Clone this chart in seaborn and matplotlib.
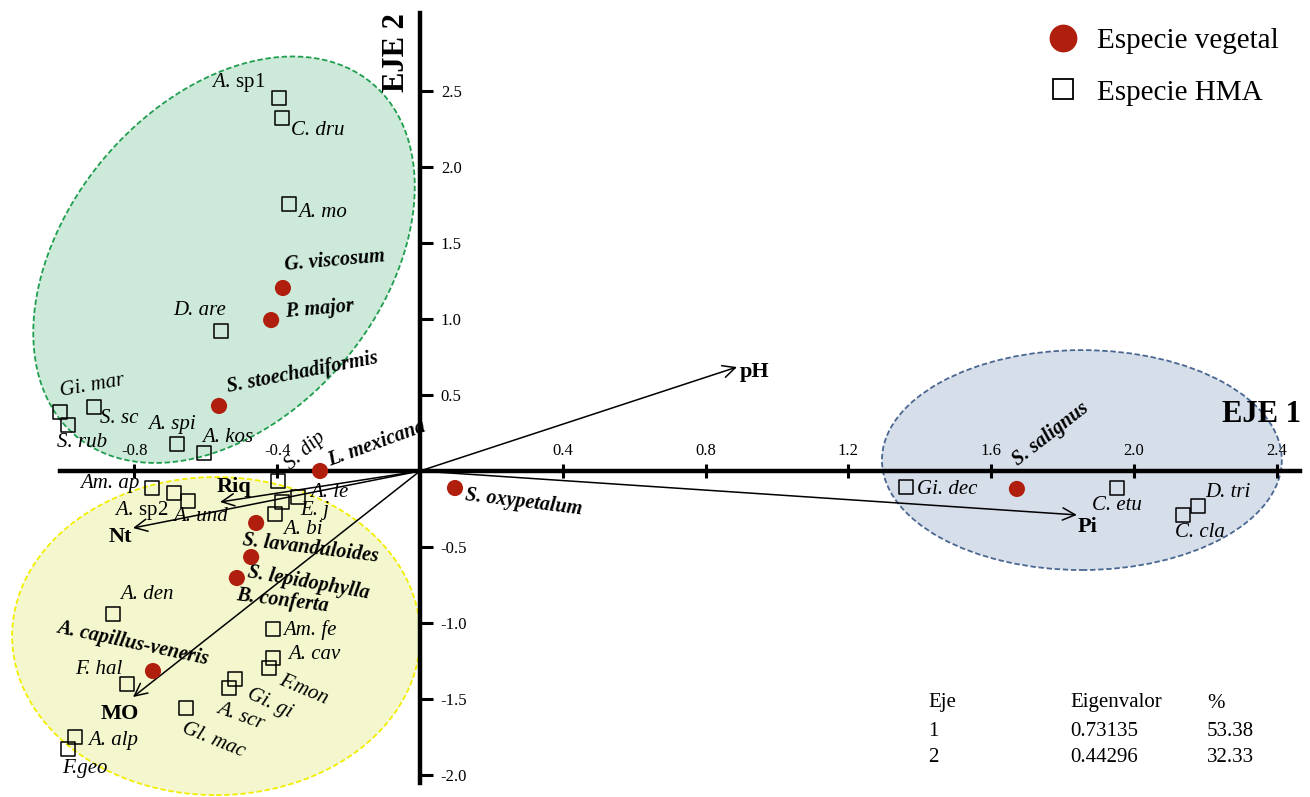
import numpy as np
import pandas as pd
import matplotlib
matplotlib.use('Agg')
import matplotlib.pyplot as plt
import matplotlib.transforms as mtransforms
from matplotlib.patches import Ellipse
from matplotlib.lines import Line2D
import seaborn as sns

sns.set_style('white')
plt.rcParams['font.family'] = ['Liberation Serif', 'DejaVu Serif']
plt.rcParams['mathtext.fontset'] = 'custom'
plt.rcParams['mathtext.rm'] = 'Liberation Serif'
plt.rcParams['mathtext.it'] = 'Liberation Serif:italic'
plt.rcParams['axes.unicode_minus'] = False
plt.rcParams['text.color'] = 'black'
plt.rcParams['xtick.color'] = 'black'
plt.rcParams['ytick.color'] = 'black'

# especies vegetales (puntos rojos)
veg_names = ['G. viscosum', 'P. major', 'S. stoechadiformis', 'L. mexicana',
             'S. lavanduloides', 'S. lepidophylla', 'B. conferta',
             'A. capillus-veneris', 'S. oxypetalum', 'S. salignus']
veg_x = [-0.384, -0.417, -0.563, -0.280, -0.459, -0.473, -0.513, -0.748, 0.098, 1.672]
veg_y = [1.204, 0.993, 0.428, 0.0, -0.342, -0.566, -0.704, -1.316, -0.112, -0.118]

# especies HMA (cuadros)
hma_names = ['A. sp1', 'C. dru', 'A. mo', 'D. are', 'Gi. mar', 'S. rub', 'S. sc',
             'A. spi', 'A. kos', 'S. dip', 'Am. ap', 'A. sp2', 'A. und', 'A. le',
             'E. j', 'A. bi', 'A. den', 'F. hal', 'Am. fe', 'A. cav', 'F.mon',
             'Gi. gi', 'A. scr', 'Gl. mac', 'A. alp', 'F.geo', 'Gi. dec', 'C. etu',
             'D. tri', 'C. cla']
hma_x = [-0.395, -0.387, -0.367, -0.557, -1.008, -0.986, -0.913, -0.681, -0.605, -0.398,
         -0.751, -0.689, -0.650, -0.342, -0.387, -0.406, -0.860, -0.821, -0.412, -0.412,
         -0.423, -0.518, -0.535, -0.655, -0.966, -0.986, 1.361, 1.952, 2.179, 2.137]
hma_y = [2.454, 2.322, 1.757, 0.921, 0.388, 0.303, 0.421, 0.178, 0.118, -0.066,
         -0.112, -0.145, -0.197, -0.171, -0.204, -0.283, -0.941, -1.401, -1.039, -1.230,
         -1.296, -1.368, -1.428, -1.559, -1.750, -1.829, -0.105, -0.112, -0.230, -0.289]

# variables del suelo (flechas)
var_names = ['pH', 'Pi', 'Riq', 'Nt', 'MO']
var_x = [0.888, 1.840, -0.560, -0.804, -0.804]
var_y = [0.684, -0.289, -0.204, -0.375, -1.487]

# tabla de eigenvalores
eje = ['1', '2']
eigenvalor = ['0.73135', '0.44296']
porcentaje = ['53.38', '32.33']

xticks = [-0.8, -0.4, 0.4, 0.8, 1.2, 1.6, 2.0, 2.4]
yticks = [2.5, 2.0, 1.5, 1.0, 0.5, -0.5, -1.0, -1.5, -2.0]

# posicion de etiquetas: (dx, dy en pixeles, alineacion, rotacion)
lab_veg = {
    'G. viscosum': (2, 23, 'left', 5),
    'P. major': (14, 8, 'left', 5),
    'S. stoechadiformis': (8, 19, 'left', 11),
    'L. mexicana': (8, 10, 'left', 20),
    'S. lavanduloides': (-14, -17, 'left', -7),
    'S. lepidophylla': (-3, -15, 'left', -10),
    'B. conferta': (0, -17, 'left', -7),
    'A. capillus-veneris': (-96, 44, 'left', -12),
    'S. oxypetalum': (10, -7, 'left', -7),
    'S. salignus': (-2, 27, 'left', 38),
}
lab_hma = {
    'A. sp1': (-14, 15, 'right', 0), 'C. dru': (9, -12, 'left', 0),
    'A. mo': (9, -9, 'left', 0), 'D. are': (-22, 21, 'center', 0),
    'Gi. mar': (0, 20, 'left', 10), 'S. rub': (-11, -18, 'left', 0),
    'S. sc': (6, -11, 'left', 0), 'A. spi': (-5, 19, 'center', 0),
    'A. kos': (-2, 16, 'left', 0), 'S. dip': (10, 14, 'left', 42),
    'Am. ap': (-12, 5, 'right', 0), 'A. sp2': (-6, -17, 'right', 0),
    'A. und': (-15, -16, 'left', 0), 'A. le': (12, 4, 'left', 0),
    'E. j': (18, -8, 'left', 0), 'A. bi': (8, -15, 'left', 0),
    'A. den': (7, 20, 'left', 0), 'F. hal': (-5, 14, 'right', 0),
    'Am. fe': (10, -1, 'left', 0), 'A. cav': (15, 3, 'left', 0),
    'F.mon': (11, -12, 'left', -23), 'Gi. gi': (13, -14, 'left', -25),
    'A. scr': (-11, -20, 'left', -20), 'Gl. mac': (-3, -20, 'left', -22),
    'A. alp': (13, -3, 'left', 0), 'F.geo': (-6, -19, 'left', 0),
    'Gi. dec': (11, -3, 'left', 0), 'C. etu': (0, -17, 'center', 0),
    'D. tri': (7, 13, 'left', 0), 'C. cla': (-8, -18, 'left', 0),
}
lab_var = {'pH': (3, -5, 'left'), 'Pi': (1, -12, 'left'), 'Riq': (-3, 15, 'left'),
           'Nt': (-1, -9, 'right'), 'MO': (-13, -17, 'center')}

fig = plt.figure(figsize=(13.1, 7.97), dpi=100)
ax = fig.add_axes([0, 0, 1, 1])

df_veg = pd.DataFrame({'x': veg_x, 'y': veg_y})
df_hma = pd.DataFrame({'x': hma_x, 'y': hma_y})

sns.scatterplot(data=df_veg, x='x', y='y', color='#b01e0e', s=135, edgecolor='none',
                ax=ax, zorder=6, legend=False)
sns.scatterplot(data=df_hma, x='x', y='y', marker='s', s=100, color='black',
                linewidth=1.1, ax=ax, zorder=6, legend=False)
ax.collections[-1].set_facecolor('none')
ax.collections[-1].set_edgecolor('black')
ax.set_xlabel('')
ax.set_ylabel('')

xlim = (-1.1765, 2.493)
ylim = (-2.1447, 3.0987)
ax.set_xlim(xlim)
ax.set_ylim(ylim)

# elipses (definidas en unidades de pixel iguales en x e y)
r = (797 / (ylim[1] - ylim[0])) / (1310 / (xlim[1] - xlim[0]))
tr = mtransforms.Affine2D().scale(1, 1 / r) + ax.transData
ells = [((-0.549, 1.39), 1.290, 0.880, 50, '#cde9d9', '#1f9e4e'),
        ((-0.571, -1.086), 1.143, 0.891, 0, '#f4f7cd', '#f2ee00'),
        ((1.854, 0.072), 1.120, 0.616, 0, '#d6deea', '#4a6791')]
for (cx, cy), w, h, ang, fc, ec in ells:
    ax.add_patch(Ellipse((cx, cy * r), w, h, angle=ang, transform=tr, facecolor=fc,
                         edgecolor=ec, linestyle=(0, (3, 1.5)), lw=1.3, zorder=0))

# ejes cruzados en el origen
ax.spines['left'].set_visible(False)
ax.spines['bottom'].set_visible(False)
ax.spines['top'].set_position(('data', 0))
ax.spines['right'].set_position(('data', 0))
ax.spines['top'].set_bounds(-1.008, 2.465)
ax.spines['right'].set_bounds(-2.05, 3.013)
for s in ['top', 'right']:
    ax.spines[s].set_linewidth(3.2)
    ax.spines[s].set_color('black')
    ax.spines[s].set_zorder(3)
ax.xaxis.set_ticks_position('top')
ax.yaxis.set_ticks_position('right')
ax.set_xticks(xticks, labels=[f'{v:.1f}' for v in xticks])
ax.set_yticks(yticks, labels=[f'{v:.1f}' for v in yticks])
ax.tick_params(axis='x', direction='inout', length=10, width=2.2, pad=4, labelsize=12,
               colors='black')
ax.tick_params(axis='y', direction='out', length=9, width=2.2, pad=6, labelsize=12,
               colors='black')
ax.grid(False)

# flechas de variables
for name, vx, vy in zip(var_names, var_x, var_y):
    ax.annotate('', xy=(vx, vy), xytext=(0, 0),
                arrowprops=dict(arrowstyle='->,head_length=0.45,head_width=0.22',
                                mutation_scale=20, lw=1.1, color='black',
                                shrinkA=0, shrinkB=0), zorder=4)
    dx, dy, ha = lab_var[name]
    ax.annotate(name, xy=(vx, vy), xytext=(dx, dy), textcoords='offset pixels',
                ha=ha, va='center', fontsize=16, fontweight='bold', zorder=7)

# etiquetas especies vegetales
for name, x, y in zip(veg_names, veg_x, veg_y):
    dx, dy, ha, rot = lab_veg[name]
    ax.annotate(name, xy=(x, y), xytext=(dx, dy), textcoords='offset pixels',
                ha=ha, va='center', rotation=rot, rotation_mode='anchor',
                fontsize=14.5, fontweight='bold', fontstyle='italic', zorder=7)

# etiquetas especies HMA
for name, x, y in zip(hma_names, hma_x, hma_y):
    dx, dy, ha, rot = lab_hma[name]
    txt = name
    style = 'italic'
    if name.endswith('sp1') or name.endswith('sp2'):
        txt = r'$\mathit{A.}\,$' + name.split(' ')[1]
        style = 'normal'
    ax.annotate(txt, xy=(x, y), xytext=(dx, dy), textcoords='offset pixels',
                ha=ha, va='center', rotation=rot, rotation_mode='anchor',
                fontsize=15, fontstyle=style, zorder=7)

# nombres de los ejes
fig.text(1262 / 1310, 1 - 415 / 797, 'EJE 1', ha='center', va='center',
         fontsize=22, fontweight='bold')
fig.text(396 / 1310, 1 - 53 / 797, 'EJE 2', ha='center', va='center', rotation=90,
         fontsize=22, fontweight='bold')

# leyenda
handles = [Line2D([], [], marker='o', ls='', color='#b01e0e', markersize=19),
           Line2D([], [], marker='s', ls='', markerfacecolor='none',
                  markeredgecolor='black', markersize=15, markeredgewidth=1.3)]
fig.legend(handles, ['Especie vegetal', 'Especie HMA'], loc='upper left',
           bbox_to_anchor=(1041 / 1310, 1 - 28 / 797), frameon=False, fontsize=21,
           handlelength=1.5, handletextpad=0.42, labelspacing=0.85,
           borderpad=0, borderaxespad=0)

# tabla
cols_x = [928, 1070, 1207]
rows_y = [703, 731, 758]
for cx, head in zip(cols_x, ['Eje', 'Eigenvalor', '%']):
    fig.text(cx / 1310, 1 - rows_y[0] / 797, head, ha='left', va='center', fontsize=15)
for i in range(len(eje)):
    yy = 1 - rows_y[i + 1] / 797
    fig.text(cols_x[0] / 1310, yy, eje[i], ha='left', va='center', fontsize=15)
    fig.text(cols_x[1] / 1310, yy, eigenvalor[i], ha='left', va='center', fontsize=15)
    fig.text(cols_x[2] / 1310, yy, porcentaje[i], ha='left', va='center', fontsize=15)

fig.savefig('out.png', dpi=100)
plt.close()
